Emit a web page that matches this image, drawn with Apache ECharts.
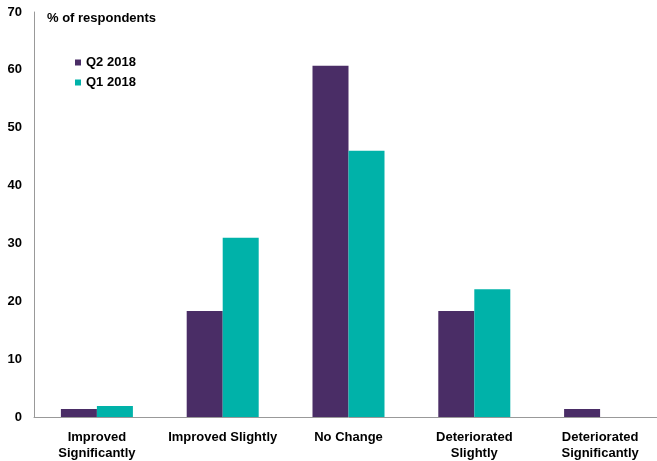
<!DOCTYPE html>
<html>
<head>
<meta charset="utf-8">
<script src="https://cdn.jsdelivr.net/npm/echarts@6/dist/echarts.min.js"></script>
<style>
  html, body { margin: 0; padding: 0; background: #fff; overflow: hidden; }
  #chart { width: 663px; height: 461px; }
</style>
</head>
<body>
<div id="chart"></div>
<script>
var categories = ['Improved\nSignificantly', 'Improved Slightly', 'No Change', 'Deteriorated\nSlightly', 'Deteriorated\nSignificantly'];
var q2_2018 = [1.4, 18.3, 60.7, 18.3, 1.4];
var q1_2018 = [1.9, 31.0, 46.0, 22.1, 0];
var yTicks = [0, 10, 20, 30, 40, 50, 60, 70];

var myChart = echarts.init(document.getElementById('chart'));

var labelFont = {
    color: '#000',
    fontFamily: 'Liberation Sans, Arial, sans-serif',
    fontWeight: 'bold',
    fontSize: 13
};

var option = {
    animation: false,
    textStyle: { fontFamily: 'Liberation Sans, Arial, sans-serif' },
    title: {
        text: '% of respondents',
        left: 42,
        top: 7,
        textStyle: labelFont
    },
    legend: {
        orient: 'vertical',
        left: 70,
        top: 51,
        itemWidth: 6,
        itemHeight: 6,
        itemGap: 7,
        icon: 'rect',
        textStyle: labelFont,
        data: ['Q2 2018', 'Q1 2018']
    },
    grid: {
        left: 34,
        right: 0,
        top: 12,
        bottom: 43,
        containLabel: false
    },
    xAxis: {
        type: 'category',
        data: categories,
        axisLine: { lineStyle: { color: '#999', width: 1 } },
        axisTick: { show: false },
        axisLabel: Object.assign({ margin: 12, lineHeight: 16, interval: 0 }, labelFont)
    },
    yAxis: {
        type: 'value',
        min: yTicks[0],
        max: yTicks[yTicks.length - 1],
        interval: 10,
        splitLine: { show: false },
        axisLine: { show: true, lineStyle: { color: '#999', width: 1 } },
        axisTick: { show: false },
        axisLabel: Object.assign({ margin: 12 }, labelFont)
    },
    series: [
        {
            name: 'Q2 2018',
            type: 'bar',
            data: q2_2018,
            barWidth: 36,
            barGap: '0%',
            itemStyle: { color: '#4A2D66' }
        },
        {
            name: 'Q1 2018',
            type: 'bar',
            data: q1_2018,
            barWidth: 36,
            barGap: '0%',
            itemStyle: { color: '#00B2A9' }
        }
    ]
};

myChart.setOption(option);
</script>
</body>
</html>
